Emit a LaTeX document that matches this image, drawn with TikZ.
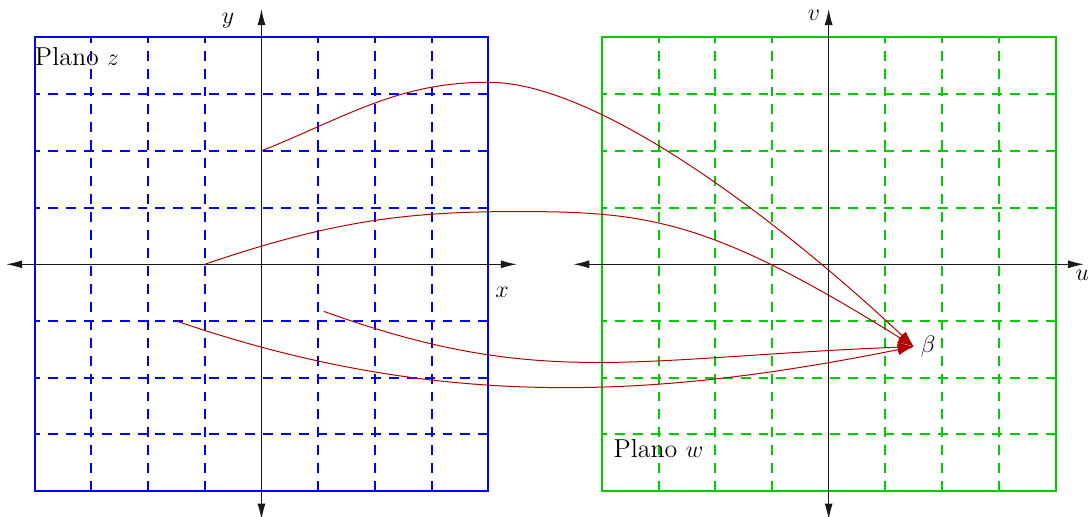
\documentclass[tikz,border=0pt]{standalone}
\usepackage{amsmath,amssymb}
\usepackage{tikz}
\usetikzlibrary{arrows.meta,calc,positioning}
\definecolor{cz}{RGB}{0,0,255}
\definecolor{cw}{RGB}{0,205,0}
\definecolor{cmap}{RGB}{180,0,0}
\tikzset{
  % planos z e w: borda cheia, malha tracejada
  borda/.style={line width=1pt},
  malha/.style={dash pattern=on 5pt off 4pt,line width=1pt},
  eixo/.style={{Latex[length=8pt,width=4pt]}-{Latex[length=8pt,width=4pt]},
    black!90,line width=0.5pt},
  mapa/.style={-{Latex[length=8pt,width=5.5pt]},cmap,line width=0.5pt},
  rot/.style={font=\fontsize{13}{15.6}\selectfont},
  plano/.style={rot,inner sep=0pt,anchor=west}
}

\begin{document}
\begin{tikzpicture}
  \useasboundingbox (-4.61,-4.44) rectangle (14.59,4.66);
  % plano z
  \foreach \k in {-3,-2,-1,1,2,3} {
    \draw[malha,cz] (4,\k) -- (-4,\k);
    \draw[malha,cz] (\k,-4) -- (\k,4);
  }
  \draw[borda,cz] (-4,-4) rectangle (4,4);
  % plano w
  \foreach \k in {-3,-2,-1,1,2,3} {
    \draw[malha,cw] (14,\k) -- (6,\k);
    \draw[malha,cw] (10+\k,-4) -- (10+\k,4);
  }
  \draw[borda,cw] (6,-4) rectangle (14,4);
  % eixos
  \draw[eixo] (-4.5,0) -- (4.5,0);
  \draw[eixo] (0,-4.5) -- (0,4.5);
  \draw[eixo] (5.5,0) -- (14.5,0);
  \draw[eixo] (10,-4.5) -- (10,4.5);
  \node[rot] (lx) at (4.24,-0.49) {$x$};
  \node[rot] (ly) at (-0.59,4.29) {$y$};
  \node[rot] (lu) at (14.47,-0.2) {$u$};
  \node[rot] (lv) at (9.74,4.39) {$v$};
  \node[plano] (pz) at (-4,3.67) {Plano $z$};
  \node[plano] (pw) at (6.2,-3.25) {Plano $w$};
  % pontos levados em beta
  \coordinate (z1) at (0,2);
  \coordinate (z2) at (-1,0);
  \coordinate (z3) at (1.1,-0.83);
  \coordinate (z4) at (-1.5,-1);
  \coordinate (beta) at (11.5,-1.45);
  \node[rot,right] (lbeta) at (beta) {$\beta$};
  \draw[mapa] (z1) .. controls (1.5,2.6) and (2.4,3.21) .. (4,3.21)
    .. controls (6,3.21) and (9.3,0.62) .. (beta);
  \draw[mapa] (z2) .. controls (1.2,0.75) and (2.5,0.93) .. (4.5,0.93)
    .. controls (6.8,0.93) and (7.9,0.8) .. (beta);
  \draw[mapa] (z3) .. controls (4.9,-2.2) and (6.5,-1.65) .. (beta);
  \draw[mapa] (z4) .. controls (3.24,-2.63) and (7.1,-2.33) .. (beta);
\end{tikzpicture}
\end{document}
